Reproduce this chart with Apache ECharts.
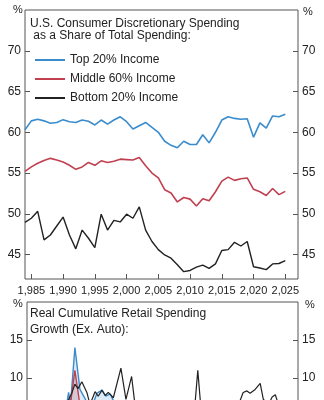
<!DOCTYPE html>
<html>
<head>
<meta charset="utf-8">
<script src="https://cdn.jsdelivr.net/npm/echarts@6/dist/echarts.min.js"></script>
<style>
  html, body { margin: 0; padding: 0; background: #fff; }
  #chart { width: 324px; height: 400px; }
</style>
</head>
<body>
<div id="chart"></div>
<script>
// Discretionary share of total spending, by income group (%)
const years = [1984,1985,1986,1987,1988,1989,1990,1991,1992,1993,1994,1995,1996,1997,1998,1999,2000,2001,2002,2003,2004,2005,2006,2007,2008,2009,2010,2011,2012,2013,2014,2015,2016,2017,2018,2019,2020,2021,2022,2023,2024,2025];
const top20 = [60.3,61.4,61.6,61.4,61.1,61.2,61.55,61.3,61.2,61.5,61.35,60.9,61.5,61.0,61.5,61.9,61.3,60.4,60.8,61.2,60.6,60.0,58.9,58.4,58.1,58.9,58.5,58.5,59.7,58.7,60.0,61.5,61.9,61.7,61.6,61.65,59.4,61.15,60.5,62.0,61.9,62.2];
const mid60 = [55.2,55.75,56.2,56.55,56.8,56.6,56.35,55.95,55.45,55.75,56.3,55.95,56.5,56.3,56.45,56.7,56.65,56.6,56.9,55.9,55.0,54.4,52.95,52.55,51.45,52.0,51.8,50.95,51.85,51.6,52.7,54.0,54.5,54.1,54.3,54.4,53.0,52.7,52.25,53.1,52.35,52.75];
const bottom20 = [48.95,49.45,50.3,46.8,47.4,48.5,49.6,47.4,45.7,48.0,47.0,45.85,49.95,48.0,49.2,49.0,49.95,49.45,50.85,48.0,46.6,45.6,44.95,44.55,43.75,42.9,43.05,43.45,43.7,43.3,43.85,45.5,45.6,46.5,46.05,46.6,43.5,43.35,43.15,43.85,43.9,44.25];

// Real cumulative retail spending growth ex. autos (%), [year, value]
const retailTop = [[1988.0,4.0],[1989.5,5.0],[1990.2,6.0],[1990.6,8.1],[1990.9,6.5],[1991.6,14.0],[1992.4,8.5],[1993.4,7.0],[1994.2,6.0],[1995.1,8.0],[1995.9,8.4],[1996.5,7.6],[1997.2,7.9],[1998.0,6.5],[1999.0,5.5],[2001.0,4.5],[2005.0,4.0],[2010.0,3.5],[2015.0,4.0],[2020.0,5.0],[2025.0,5.0]];
const retailMid = [[1988.0,3.5],[1989.5,4.5],[1990.8,6.0],[1991.6,11.0],[1992.3,7.0],[1993.5,6.0],[1995.0,6.5],[1997.0,6.0],[1999.0,5.0],[2001.0,4.0],[2005.0,3.5],[2010.0,3.0],[2015.0,3.5],[2020.0,4.5],[2025.0,4.5]];
const retailBottom = [[1988.0,3.0],[1989.2,5.0],[1990.5,7.0],[1991.1,8.0],[1991.6,9.2],[1992.1,8.6],[1992.7,9.5],[1993.5,8.1],[1994.0,6.5],[1994.8,8.2],[1995.3,7.6],[1995.9,8.4],[1996.4,7.7],[1996.9,8.1],[1997.7,7.4],[1998.9,11.3],[1999.7,7.2],[2000.6,10.2],[2001.2,6.0],[2003.0,5.0],[2006.0,4.5],[2009.0,5.0],[2010.7,7.0],[2011.1,11.0],[2011.5,7.0],[2013.0,5.0],[2016.0,5.5],[2017.8,7.0],[2018.3,8.1],[2018.9,8.3],[2019.4,8.0],[2020.2,8.5],[2021.0,9.3],[2021.5,7.2],[2022.3,6.5],[2022.9,7.5],[2023.4,7.8],[2023.9,6.5],[2025.0,6.0]];

const yearTicks = [1985,1990,1995,2000,2005,2010,2015,2020,2025];
const shareTicks = [45,50,55,60,65,70];
const growthTicks = [0,5,10,15];

const FONT = 'Liberation Sans, Arial, sans-serif';
const INK = '#222';
const FRAME = '#555';
const BLUE = '#3a8ccc';
const RED = '#c04050';
const BLACK = '#222';

const chart = echarts.init(document.getElementById('chart'), null, { renderer: 'canvas' });

function yAxisFor(grid, pos, min, max, ticks) {
  return {
    type: 'value', gridIndex: grid, position: pos, min: min, max: max,
    axisLine: { show: false },
    axisTick: { show: true, inside: true, length: 5, customValues: ticks, lineStyle: { color: FRAME } },
    axisLabel: { customValues: ticks, color: INK, fontSize: 12, fontFamily: FONT, margin: 4 },
    splitLine: { show: false }
  };
}
function xAxisFor(grid) {
  return {
    type: 'value', gridIndex: grid, min: 1984, max: 2027,
    axisLine: { show: false },
    axisTick: { show: true, inside: true, length: 5, customValues: yearTicks, lineStyle: { color: FRAME } },
    axisLabel: { customValues: yearTicks, color: INK, fontSize: 11, fontFamily: FONT, margin: 6 },
    splitLine: { show: false }
  };
}
const pairs = (vals) => years.map((y, i) => [y, vals[i]]);

chart.setOption({
  animation: false,
  backgroundColor: '#fff',
  textStyle: { fontFamily: FONT },
  title: [
    { text: 'U.S. Consumer Discretionary Spending\n as a Share of Total Spending:', left: 30, top: 17, padding: 0,
      textStyle: { fontSize: 12, fontWeight: 'normal', color: INK, lineHeight: 12.5, fontFamily: FONT } },
    { text: 'Real Cumulative Retail Spending\nGrowth (Ex. Auto):', left: 30, top: 306, padding: 0,
      textStyle: { fontSize: 12, fontWeight: 'normal', color: INK, lineHeight: 15.5, fontFamily: FONT } }
  ],
  legend: {
    data: ['Top 20% Income', 'Middle 60% Income', 'Bottom 20% Income'],
    orient: 'vertical', left: 35, top: 53, padding: 0,
    icon: 'rect', itemWidth: 30, itemHeight: 2, itemGap: 5,
    textStyle: { fontSize: 12, color: INK, fontFamily: FONT, lineHeight: 14 }
  },
  graphic: [
    { type: 'text', left: 13, top: 4, style: { text: '%', fontSize: 11, fill: INK, fontFamily: FONT } },
    { type: 'text', left: 303, top: 6, style: { text: '%', fontSize: 11, fill: INK, fontFamily: FONT } },
    { type: 'text', left: 13, top: 298, style: { text: '%', fontSize: 11, fill: INK, fontFamily: FONT } },
    { type: 'text', left: 305, top: 299, style: { text: '%', fontSize: 11, fill: INK, fontFamily: FONT } }
  ],
  grid: [
    { left: 25, right: 26, top: 10, height: 269, outerBoundsMode: 'none', containLabel: false,
      show: true, borderColor: FRAME, borderWidth: 1, backgroundColor: 'transparent' },
    { left: 27, right: 26, top: 302, height: 152, outerBoundsMode: 'none', containLabel: false,
      show: true, borderColor: FRAME, borderWidth: 1, backgroundColor: 'transparent' }
  ],
  xAxis: [xAxisFor(0), xAxisFor(1)],
  yAxis: [
    yAxisFor(0, 'left', 42, 75, shareTicks),
    yAxisFor(0, 'right', 42, 75, shareTicks),
    yAxisFor(1, 'left', 0, 20, growthTicks),
    yAxisFor(1, 'right', 0, 20, growthTicks)
  ],
  series: [
    { name: 'Top 20% Income', type: 'line', xAxisIndex: 0, yAxisIndex: 0, data: pairs(top20), symbol: 'none',
      lineStyle: { color: BLUE, width: 1.6 }, itemStyle: { color: BLUE } },
    { name: 'Middle 60% Income', type: 'line', xAxisIndex: 0, yAxisIndex: 0, data: pairs(mid60), symbol: 'none',
      lineStyle: { color: RED, width: 1.6 }, itemStyle: { color: RED } },
    { name: 'Bottom 20% Income', type: 'line', xAxisIndex: 0, yAxisIndex: 0, data: pairs(bottom20), symbol: 'none',
      lineStyle: { color: BLACK, width: 1.4 }, itemStyle: { color: BLACK } },
    { name: 'Top 20% Income', type: 'line', xAxisIndex: 1, yAxisIndex: 2, data: retailTop, symbol: 'none',
      lineStyle: { color: BLUE, width: 1.4 }, itemStyle: { color: BLUE },
      areaStyle: { color: 'rgba(58,140,204,0.25)' } },
    { name: 'Middle 60% Income', type: 'line', xAxisIndex: 1, yAxisIndex: 2, data: retailMid, symbol: 'none',
      lineStyle: { color: RED, width: 1.4 }, itemStyle: { color: RED },
      areaStyle: { color: 'rgba(192,64,80,0.3)' } },
    { name: 'Bottom 20% Income', type: 'line', xAxisIndex: 1, yAxisIndex: 2, data: retailBottom, symbol: 'none',
      lineStyle: { color: BLACK, width: 1.2 }, itemStyle: { color: BLACK } }
  ]
});
</script>
</body>
</html>
